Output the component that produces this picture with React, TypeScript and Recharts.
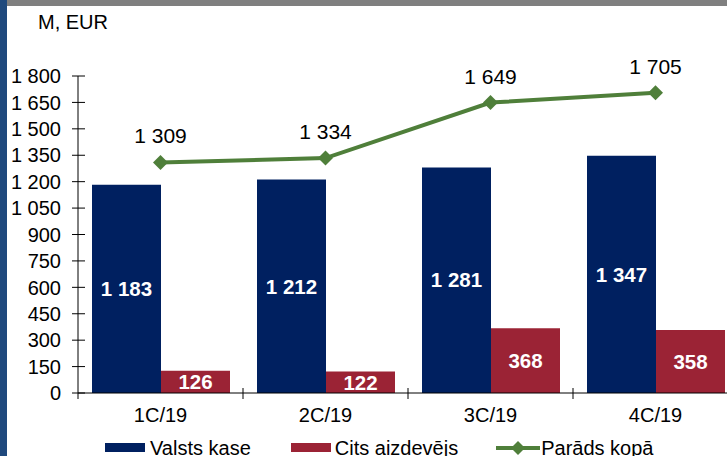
import React from "react";
import {
  Bar,
  ComposedChart,
  LabelList,
  Line,
  XAxis,
  YAxis,
} from "recharts";

const quarters = ["1C/19", "2C/19", "3C/19", "4C/19"];
const treasury = [1183, 1212, 1281, 1347];
const otherLenders = [126, 122, 368, 358];
const totalDebt = [1309, 1334, 1649, 1705];
const yTicks = [0, 150, 300, 450, 600, 750, 900, 1050, 1200, 1350, 1500, 1650, 1800];

const seriesNames = ["Valsts kase", "Cits aizdevējs", "Parāds kopā"];

const NAVY = "#002060";
const RED = "#9B2335";
const GREEN = "#4F7F3A";
const FONT = "'Liberation Sans', Arial, sans-serif";

const data = quarters.map((q, i) => ({
  name: q,
  treasury: treasury[i],
  other: otherLenders[i],
  total: totalDebt[i],
}));

const fmt = (v: any) => String(v).replace(/\B(?=(\d{3})+(?!\d))/g, " ");

const YTick = (props: any) => {
  const { x, y, payload } = props;
  return (
    <g>
      <line x1={x + 11} x2={x + 24} y1={y} y2={y} stroke="#000" strokeWidth={1} />
      {payload.value === 0 && (
        <line x1={x + 17} x2={x + 17} y1={y} y2={y + 6} stroke="#000" strokeWidth={1} />
      )}
      <text x={x} y={y} dy={7.2} textAnchor="end" fontSize={20} fontFamily={FONT} fill="#000">
        {fmt(payload.value)}
      </text>
    </g>
  );
};

const XTick = (props: any) => {
  const { x, y, payload } = props;
  const half = payload.offset ?? 82.5;
  return (
    <g>
      <line x1={x + half} x2={x + half} y1={y - 5} y2={y + 6} stroke="#000" strokeWidth={1} />
      <text x={x} y={y} dy={29.3} textAnchor="middle" fontSize={20} fontFamily={FONT} fill="#000">
        {payload.value}
      </text>
    </g>
  );
};

const Diamond = (props: any) => {
  const { cx, cy } = props;
  if (cx == null || cy == null) return null;
  return (
    <path
      d={`M${cx} ${cy - 7.5}L${cx + 7.5} ${cy}L${cx} ${cy + 7.5}L${cx - 7.5} ${cy}Z`}
      fill={GREEN}
    />
  );
};

const textStyle: React.CSSProperties = {
  fontSize: 20,
  lineHeight: "20px",
  fontFamily: FONT,
  color: "#000",
  whiteSpace: "nowrap",
};

const App = () => {
  return (
    <div
      style={{
        position: "absolute",
        top: 0,
        left: 0,
        width: 727,
        height: 456,
        overflow: "hidden",
        background: "#fff",
      }}
    >
      <div style={{ position: "absolute", top: 0, left: 0, width: 727, height: 6, background: "#7F7F7F" }} />
      <div style={{ position: "absolute", top: 0, left: 0, width: 7, height: 456, background: "#1F497D" }} />
      <div style={{ ...textStyle, position: "absolute", top: 12.4, left: 38 }}>M, EUR</div>

      <div style={{ position: "absolute", top: 0, left: 0 }}>
        <ComposedChart
          width={760}
          height={456}
          data={data}
          margin={{ top: 76, right: 22, bottom: 0, left: 0 }}
          barGap={0}
          barCategoryGap={14}
        >
          <XAxis
            dataKey="name"
            height={63}
            tickSize={0}
            tickMargin={0}
            tickLine={false}
            axisLine={{ stroke: "#000", strokeWidth: 1 }}
            tick={<XTick />}
            interval={0}
          />
          <YAxis
            width={78}
            domain={[0, 1800]}
            ticks={yTicks}
            tickSize={0}
            tickMargin={17}
            tickLine={false}
            axisLine={{ stroke: "#000", strokeWidth: 1 }}
            tick={<YTick />}
            interval={0}
          />
          <Bar dataKey="treasury" name={seriesNames[0]} fill={NAVY} isAnimationActive={false}>
            <LabelList
              dataKey="treasury"
              position="center"
              formatter={fmt}
              fill="#fff"
              fontSize={20.5}
              fontWeight="bold"
              fontFamily={FONT}
            />
          </Bar>
          <Bar dataKey="other" name={seriesNames[1]} fill={RED} isAnimationActive={false}>
            <LabelList
              dataKey="other"
              position="center"
              formatter={fmt}
              fill="#fff"
              fontSize={20.5}
              fontWeight="bold"
              fontFamily={FONT}
            />
          </Bar>
          <Line
            dataKey="total"
            name={seriesNames[2]}
            stroke={GREEN}
            strokeWidth={4}
            dot={<Diamond />}
            activeDot={false}
            isAnimationActive={false}
          >
            <LabelList
              dataKey="total"
              position="top"
              offset={19}
              formatter={fmt}
              fill="#000"
              fontSize={21}
              fontFamily={FONT}
            />
          </Line>
        </ComposedChart>
      </div>

      <div
        style={{
          position: "absolute",
          top: 438.4,
          left: 105,
          display: "flex",
          alignItems: "flex-start",
        }}
      >
        <div style={{ display: "flex", alignItems: "flex-start", marginRight: 40 }}>
          <div style={{ width: 40, height: 9, marginTop: 4.6, marginRight: 5, background: NAVY }} />
          <span style={textStyle}>{seriesNames[0]}</span>
        </div>
        <div style={{ display: "flex", alignItems: "flex-start", marginRight: 38 }}>
          <div style={{ width: 40, height: 9, marginTop: 4.6, marginRight: 4, background: RED }} />
          <span style={textStyle}>{seriesNames[1]}</span>
        </div>
        <div style={{ display: "flex", alignItems: "flex-start" }}>
          <svg width={44} height={16} style={{ marginTop: 1.6, marginRight: 1 }}>
            <line x1={0} x2={44} y1={8} y2={8} stroke={GREEN} strokeWidth={4} />
            <path d="M22 1L29 8L22 15L15 8Z" fill={GREEN} />
          </svg>
          <span style={textStyle}>{seriesNames[2]}</span>
        </div>
      </div>
    </div>
  );
};

export default App;
